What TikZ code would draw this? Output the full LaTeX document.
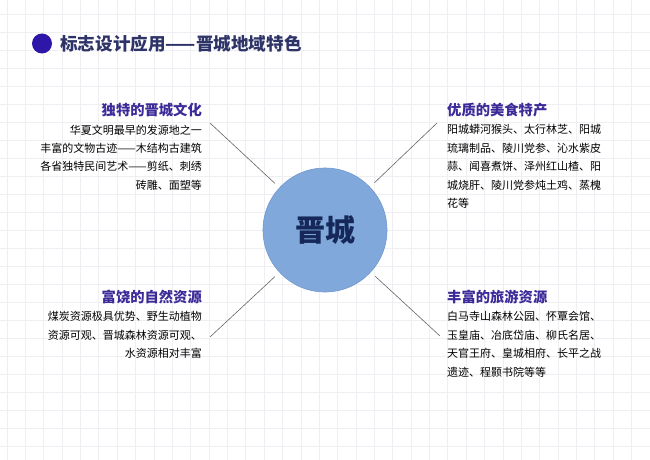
\documentclass[tikz,border=0pt]{standalone}
\usepackage{fontspec}
\newfontfamily\cjk{Noto Sans CJK SC}
\definecolor{gridgray}{HTML}{EFEFF3}
\definecolor{bulletblue}{HTML}{2E17A8}
\definecolor{titlenavy}{HTML}{2E3468}
\definecolor{headpurple}{HTML}{3B2A98}
\definecolor{cityblue}{HTML}{80A8DA}
\definecolor{cityedge}{HTML}{6F98CE}
\definecolor{citytext}{HTML}{16285A}
\begin{document}
\begin{tikzpicture}[
    x=1pt, y=-1pt,
    gridline/.style={draw=gridgray, line width=0.8pt},
    head/.style={font=\cjk\bfseries\fontsize{14.3}{16}\selectfont, text=headpurple, inner sep=0pt},
    body/.style={font=\cjk\fontsize{11}{18.4}\selectfont, text=black, inner sep=0pt, align=#1},
    link/.style={draw=black!60, line width=0.6pt, shorten <=6pt}
]
    \useasboundingbox (0,0) rectangle (650,460);
    \fill[white] (0,0) rectangle (650,460);
    % background grid
    \foreach \i in {0,...,35}
        \draw[gridline] (7+18.37*\i,0) -- (7+18.37*\i,460);
    \foreach \j in {0,...,25}
        \draw[gridline] (0,14.7+18*\j) -- (650,14.7+18*\j);

    % title
    \fill[bulletblue] (42,43.5) circle (10);
    \node[font=\cjk\bfseries\fontsize{17.6}{20}\selectfont, text=titlenavy, anchor=west, inner sep=0pt] (title) at (60,43.5) {标志设计应用——晋城地域特色};

    % centre
    \node[circle, minimum size=124pt, inner sep=0pt, fill=cityblue, draw=cityedge, line width=0.6pt,
          font=\cjk\bfseries\fontsize{30}{32}\selectfont, text=citytext] (jc) at (325,230) {晋城};

    % four topics
    \node[head, anchor=east] (culture) at (202,110) {独特的晋城文化};
    \node[body=right, anchor=north east] (culturetext) at (202,124.5)
        {华夏文明最早的发源地之一\\丰富的文物古迹——木结构古建筑\\各省独特民间艺术——剪纸、刺绣\\砖雕、面塑等};
    \node[head, anchor=west] (food) at (447,110) {优质的美食特产};
    \node[body=left, anchor=north west] (foodtext) at (447,124.5)
        {阳城蟒河猴头、太行林芝、阳城\\琉璃制品、陵川党参、沁水紫皮\\蒜、闻喜煮饼、泽州红山楂、阳\\城烧肝、陵川党参炖土鸡、蒸槐\\花等};
    \node[head, anchor=east] (nature) at (202,297) {富饶的自然资源};
    \node[body=right, anchor=north east] (naturetext) at (202,311.5)
        {煤炭资源极具优势、野生动植物\\资源可观、晋城森林资源可观、\\水资源相对丰富};
    \node[head, anchor=west] (travel) at (447,297) {丰富的旅游资源};
    \node[body=left, anchor=north west] (traveltext) at (447,311.5)
        {白马寺山森林公园、怀覃会馆、\\玉皇庙、冶底岱庙、柳氏名居、\\天官王府、皇城相府、长平之战\\遗迹、程颢书院等等};

    % connectors
    \coordinate (culturept) at (210,123);
    \coordinate (foodpt) at (437,123);
    \coordinate (naturept) at (210,337);
    \coordinate (travelpt) at (440,336);
    \draw[link] (jc) -- (culturept);
    \draw[link] (jc) -- (foodpt);
    \draw[link] (jc) -- (naturept);
    \draw[link] (jc) -- (travelpt);
\end{tikzpicture}
\end{document}
